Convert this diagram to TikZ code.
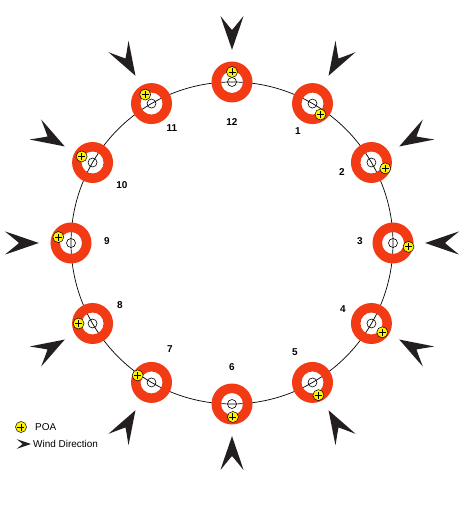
\documentclass[tikz,border=0pt]{standalone}
\usepackage{fontspec}
\setsansfont{Liberation Sans}
\usetikzlibrary{calc}
\definecolor{ringred}{RGB}{242,58,20}
\definecolor{poayellow}{RGB}{255,242,0}
\definecolor{arrowgray}{RGB}{35,31,32}
\def\poamark(#1:#2){%
	\draw[fill=poayellow, line width=0.5bp] (#1:#2) circle (5.5);
	\draw[line width=0.9bp] ($(#1:#2)+(-3.5,0)$) -- ++(7,0) ($(#1:#2)+(0,-3.5)$) -- ++(0,7);}
\def\sensorring(#1:#2)(#3:#4){%
	\begin{scope}[shift={(#1:#2)}]
		\fill[ringred, even odd rule] (0,0) circle (20.5) (0,0) circle (11);
		\draw[line width=0.6bp] (0,0) circle (4.5);
		\poamark(#3:#4)
	\end{scope}}
\def\windarrow(#1)[#2:#3]{%
	\fill[arrowgray, shift={(#1)}, rotate=#2, scale=#3] (0,0)
		.. controls (-11,3.6) and (-23,8) .. (-34,11.5)
		.. controls (-29,7.5) and (-24,3.5) .. (-20,0)
		.. controls (-24,-3.5) and (-29,-7.5) .. (-34,-11.5)
		.. controls (-23,-8) and (-11,-3.6) .. (0,0) -- cycle;}

\begin{document}
\begin{tikzpicture}[x=1bp, y=1bp,
	hourlabel/.style={font=\sffamily\bfseries\fontsize{10}{12}\selectfont, inner sep=0pt},
	legendtext/.style={font=\sffamily\fontsize{10}{12}\selectfont, anchor=west, inner sep=0pt}]
			%%%%% START %%%%%
			\useasboundingbox (-232,-266) rectangle (241,243);
			
			\draw[line width=0.7bp] (0,0) circle (161);
			
			\sensorring(90:161)(90:10)
			\sensorring(60:161)(-54:13.5)
			\sensorring(30:161)(-23:15)
			\sensorring(0:161)(-14:16)
			\sensorring(-30:161)(-39:14)
			\sensorring(-60:161)(-65:14)
			\sensorring(-90:161)(-86:13)
			\sensorring(-120:161)(153:15.5)
			\sensorring(-150:161)(180:14)
			\sensorring(180:161)(155:14)
			\sensorring(150:161)(151:12.5)
			\sensorring(120:161)(125:11)
			
			\windarrow(90:193)[270:1]
			\windarrow(60:193)[240:1]
			\windarrow(30:193)[210:1]
			\windarrow(0:193)[180:1]
			\windarrow(-30:193)[150:1]
			\windarrow(-60:193)[120:1]
			\windarrow(-90:193)[90:1]
			\windarrow(-120:193)[60:1]
			\windarrow(-150:193)[30:1]
			\windarrow(180:193)[0:1]
			\windarrow(150:193)[-30:1]
			\windarrow(120:193)[-60:1]
			
			\node[hourlabel] (h12) at (0,121) {12};
			\node[hourlabel] (h1) at (66,112) {1};
			\node[hourlabel] (h2) at (110,71) {2};
			\node[hourlabel] (h3) at (128,2) {3};
			\node[hourlabel] (h4) at (111,-66) {4};
			\node[hourlabel] (h5) at (63,-109) {5};
			\node[hourlabel] (h6) at (0,-124) {6};
			\node[hourlabel] (h7) at (-62,-106) {7};
			\node[hourlabel] (h8) at (-112,-62) {8};
			\node[hourlabel] (h9) at (-125,2) {9};
			\node[hourlabel] (h10) at (-110,58) {10};
			\node[hourlabel] (h11) at (-60,115) {11};
			
			% legend
			\begin{scope}[shift={(-211,-184)}]
				\poamark(0:0)
			\end{scope}
			\node[legendtext] (poa) at (-197,-184) {POA};
			\windarrow(-201,-201)[0:0.42]
			\node[legendtext] (wind) at (-199,-201) {Wind Direction};
			%%%%% END %%%%%
\end{tikzpicture}
\end{document}
